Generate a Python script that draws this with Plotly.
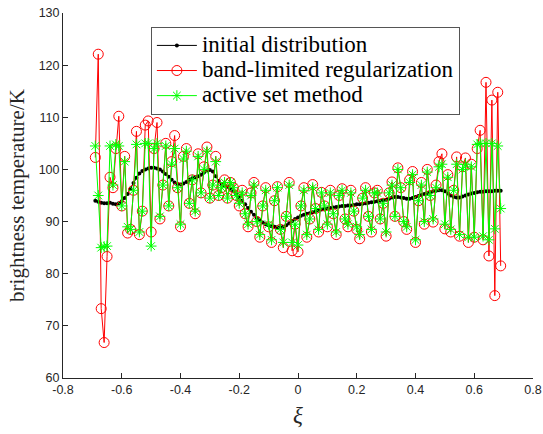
import plotly.graph_objects as go

xi = [-0.69, -0.68, -0.67, -0.66, -0.65, -0.64, -0.63, -0.62, -0.61, -0.60,
      -0.59, -0.58, -0.57, -0.56, -0.55, -0.54, -0.53, -0.52, -0.51, -0.50,
      -0.49, -0.48, -0.47, -0.46, -0.45, -0.44, -0.43, -0.42, -0.41, -0.40,
      -0.39, -0.38, -0.37, -0.36, -0.35, -0.34, -0.33, -0.32, -0.31, -0.30,
      -0.29, -0.28, -0.27, -0.26, -0.25, -0.24, -0.23, -0.22, -0.21, -0.20,
      -0.19, -0.18, -0.17, -0.16, -0.15, -0.14, -0.13, -0.12, -0.11, -0.10,
      -0.09, -0.08, -0.07, -0.06, -0.05, -0.04, -0.03, -0.02, -0.01, 0.00,
      0.01, 0.02, 0.03, 0.04, 0.05, 0.06, 0.07, 0.08, 0.09, 0.10,
      0.11, 0.12, 0.13, 0.14, 0.15, 0.16, 0.17, 0.18, 0.19, 0.20,
      0.21, 0.22, 0.23, 0.24, 0.25, 0.26, 0.27, 0.28, 0.29, 0.30,
      0.31, 0.32, 0.33, 0.34, 0.35, 0.36, 0.37, 0.38, 0.39, 0.40,
      0.41, 0.42, 0.43, 0.44, 0.45, 0.46, 0.47, 0.48, 0.49, 0.50,
      0.51, 0.52, 0.53, 0.54, 0.55, 0.56, 0.57, 0.58, 0.59, 0.60,
      0.61, 0.62, 0.63, 0.64, 0.65, 0.66, 0.67, 0.68, 0.69]

initial_distribution = [
    94.0, 93.8, 93.6, 93.5, 93.5, 93.6, 93.4, 93.3, 93.5, 93.9,
    94.5, 95.3, 96.3, 97.4, 98.4, 99.2, 99.7, 100.0, 100.2, 100.3,
    100.3, 100.2, 100.0, 99.6, 99.1, 98.6, 98.0, 97.5, 97.2, 97.1,
    97.3, 97.6, 98.0, 98.3, 98.5, 98.7, 99.0, 99.4, 99.8, 99.9,
    99.6, 98.7, 97.8, 97.2, 96.9, 96.7, 96.3, 95.8, 95.2, 94.6,
    94.0, 93.3, 92.6, 91.9, 91.3, 90.7, 90.2, 89.8, 89.5, 89.3,
    89.1, 89.0, 88.9, 88.9, 89.0, 89.3, 89.7, 90.1, 90.5, 90.8,
    91.1, 91.3, 91.5, 91.6, 91.8, 92.0, 92.1, 92.3, 92.4, 92.5,
    92.6, 92.7, 92.8, 92.9, 93.0, 93.0, 93.1, 93.1, 93.2, 93.3,
    93.3, 93.4, 93.5, 93.6, 93.7, 93.8, 93.9, 94.0, 94.1, 94.2,
    94.4, 94.6, 94.7, 94.7, 94.6, 94.5, 94.4, 94.4, 94.5, 94.7,
    94.9, 95.1, 95.3, 95.5, 95.6, 95.8, 95.9, 96.0, 96.0, 95.8,
    95.4, 95.0, 94.7, 94.6, 94.6, 94.8, 95.0, 95.2, 95.4, 95.5,
    95.6, 95.7, 95.7, 95.8, 95.8, 95.8, 95.9, 95.9, 95.9]

band_limited = [
    102.3, 122.1, 73.3, 66.8, 83.3, 98.5, 96.5, 104.0, 110.2, 93.0,
    102.5, 87.8, 88.5, 96.0, 107.3, 87.5, 92.0, 108.5, 109.3, 88.0,
    104.0, 109.0, 90.5, 97.0, 105.0, 93.0, 101.5, 106.5, 96.5, 89.0,
    102.5, 104.0, 93.5, 98.0, 91.5, 103.0, 95.5, 100.5, 104.3, 94.5,
    97.0, 102.5, 95.0, 96.5, 98.0, 94.5, 97.5, 96.5, 95.0, 93.0,
    96.0, 91.5, 89.0, 95.5, 97.5, 90.0, 87.0, 93.0, 96.5, 89.0,
    86.0, 94.0, 96.7, 88.5, 85.0, 91.0, 97.5, 84.4, 89.5, 84.2,
    93.0, 96.5, 87.0, 90.5, 97.1, 92.5, 88.0, 95.6, 93.0, 89.0,
    96.0, 91.5, 87.5, 95.0, 96.3, 90.5, 89.0, 96.0, 92.0, 88.5,
    86.7, 94.5, 96.5, 91.0, 88.0, 95.5, 96.0, 90.5, 93.5, 87.2,
    95.5, 97.6, 91.0, 100.3, 96.5, 90.0, 88.5, 98.0, 99.6, 86.0,
    94.0, 97.5, 89.5, 100.0, 95.0, 89.9, 97.0, 101.5, 103.0, 88.6,
    99.0, 88.0, 96.0, 102.4, 87.2, 100.5, 102.2, 86.0, 101.0, 87.0,
    104.0, 107.5, 86.5, 116.7, 83.4, 113.3, 75.8, 114.8, 81.5]

active_set = [
    104.5, 95.0, 85.0, 85.2, 85.3, 104.5, 97.0, 104.8, 104.5, 93.0,
    101.5, 89.0, 88.5, 96.0, 104.8, 88.0, 92.0, 105.0, 105.0, 85.3,
    104.0, 105.0, 91.0, 97.0, 104.5, 93.0, 101.0, 104.0, 96.5, 89.5,
    102.0, 103.5, 93.5, 98.0, 92.0, 102.5, 95.5, 100.0, 103.5, 94.5,
    97.0, 101.5, 95.0, 96.5, 97.5, 94.5, 97.5, 96.5, 95.0, 93.5,
    95.5, 91.5, 89.5, 95.0, 97.0, 90.0, 87.5, 93.0, 96.0, 89.5,
    86.5, 94.0, 96.5, 88.5, 86.0, 91.0, 97.0, 86.0, 89.5, 85.5,
    93.0, 96.0, 87.5, 90.5, 96.5, 92.5, 88.5, 95.5, 93.0, 89.5,
    95.5, 91.5, 88.0, 95.0, 96.0, 90.5, 89.5, 95.5, 92.0, 89.0,
    87.5, 94.5, 96.0, 91.0, 88.5, 95.5, 95.5, 90.5, 93.5, 88.0,
    95.5, 97.0, 91.0, 100.0, 96.5, 90.0, 89.0, 97.5, 99.0, 86.5,
    94.0, 97.0, 90.0, 99.5, 95.0, 90.5, 96.5, 100.5, 101.0, 89.5,
    98.5, 88.5, 96.0, 101.0, 87.5, 100.0, 101.0, 87.0, 100.5, 87.0,
    104.8, 105.0, 87.2, 105.0, 86.5, 105.0, 88.6, 104.5, 92.5]

x_ticks = [-0.8, -0.6, -0.4, -0.2, 0, 0.2, 0.4, 0.6, 0.8]
x_ticktext = ["-0.8", "-0.6", "-0.4", "-0.2", "0", "0.2", "0.4", "0.6", "0.8"]
y_ticks = [60, 70, 80, 90, 100, 110, 120, 130]

names = ["initial distribution", "band-limited regularization", "active set method"]

def legend_label(s):
    return '<span style="font-size:23px">' + s + '</span>'

fig = go.Figure()
fig.add_trace(go.Scatter(
    x=xi, y=initial_distribution, name=legend_label(names[0]), mode="lines+markers",
    line=dict(color="black", width=1),
    marker=dict(symbol="circle", size=4, color="black")))
fig.add_trace(go.Scatter(
    x=xi, y=band_limited, name=legend_label(names[1]), mode="lines+markers",
    line=dict(color="#ff0000", width=1),
    marker=dict(symbol="circle-open", size=10, color="#ff0000", line=dict(width=1))))
fig.add_trace(go.Scatter(
    x=xi, y=active_set, name=legend_label(names[2]), mode="lines+markers",
    line=dict(color="#00ff00", width=1),
    marker=dict(symbol="asterisk-open", size=9, color="#00ff00", line=dict(width=1, color="#00ff00"))))

axis_color = "#262626"
fig.update_layout(
    width=543, height=434,
    margin=dict(l=63, r=10, t=13, b=56),
    paper_bgcolor="white", plot_bgcolor="white",
    showlegend=True,
    legend=dict(
        x=0.187, y=0.962, xanchor="left", yanchor="top",
        bgcolor="white", bordercolor="#555555", borderwidth=1,
        font=dict(family="Liberation Serif", size=17, color="black"),
        itemwidth=40, tracegroupgap=0,
    ),
    xaxis=dict(
        range=[-0.8, 0.8], tickvals=x_ticks, ticktext=x_ticktext, automargin=False,
        ticks="inside", ticklen=5, tickcolor=axis_color,
        showline=True, linecolor=axis_color, linewidth=1, mirror=False,
        showgrid=False, zeroline=False,
        tickfont=dict(family="Liberation Sans", size=12.5, color=axis_color),
        title=dict(text="<i>ξ</i>", font=dict(family="Liberation Serif", size=23, color=axis_color), standoff=10),
    ),
    yaxis=dict(
        range=[60, 130], tickvals=y_ticks, automargin=False,
        ticks="inside", ticklen=5, tickcolor=axis_color,
        showline=True, linecolor=axis_color, linewidth=1, mirror=False,
        showgrid=False, zeroline=False,
        tickfont=dict(family="Liberation Sans", size=12.5, color=axis_color),
        title=dict(text="brightness temperature/K", font=dict(family="Liberation Serif", size=21, color=axis_color), standoff=8),
    ),
)

fig.write_html("out.html")
